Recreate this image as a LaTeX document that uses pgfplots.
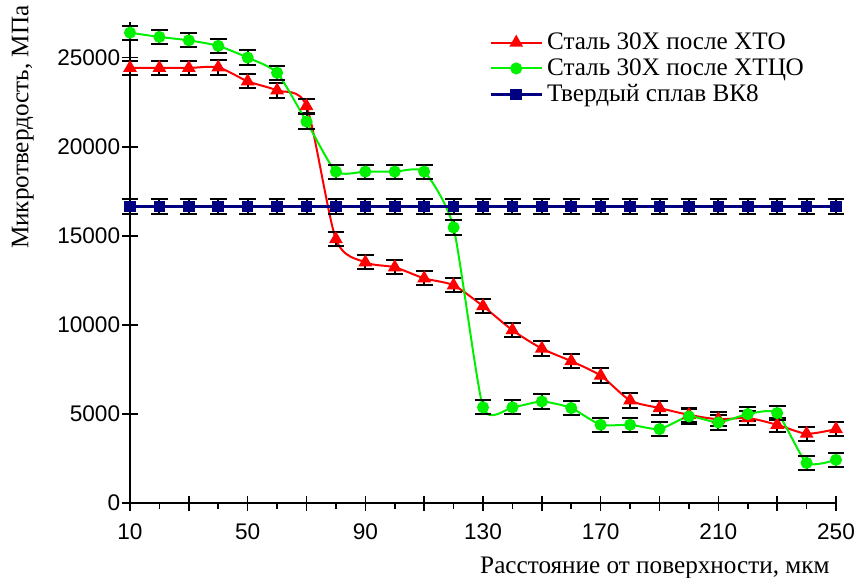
\documentclass[border=0pt]{standalone}
\usepackage{fontspec}
\setmainfont{Liberation Serif}
\setsansfont{Liberation Sans}
\usepackage{pgfplots}
\pgfplotsset{compat=1.18}

\definecolor{hto}{RGB}{255,0,0}
\definecolor{htco}{RGB}{0,240,0}
\definecolor{vk}{RGB}{0,0,128}

\begin{document}
\begin{tikzpicture}
\begin{axis}[
    name=ax,
    scale only axis,
    width=353pt, height=240.5pt,
    xmin=10, xmax=250, ymin=0, ymax=27000,
    axis lines*=left,
    axis line style={line width=1pt},
    clip=false,
    xtick={10,30,...,250},
    xticklabels={10,,50,,90,,130,,170,,210,,250},
    minor x tick num=1,
    ytick={0,5000,...,25000},
    tick align=center,
    major tick length=7.5pt,
    minor tick length=3pt,
    every tick/.style={black, line width=0.8pt},
    every minor tick/.append style={yshift=-1.5pt},
    tick label style={font=\sffamily\fontsize{11.3}{13}\selectfont},
    xticklabel style={yshift=-3pt},
    yticklabel style={inner sep=1pt},
    /pgf/number format/assume math mode=true,
    /pgf/number format/1000 sep={},
    scaled y ticks=false,
    xlabel={Расстояние от поверхности, мкм},
    ylabel={Микротвердость, МПа},
    label style={font=\fontsize{12.6}{15}\selectfont, inner sep=0pt},
    xlabel style={at={(axis description cs:0.9915,-0.135)}, anchor=east},
    ylabel style={at={(axis description cs:-0.168,1.035)}, anchor=north east},
    legend style={at={(axis description cs:0.5,0.995)}, anchor=north west,
        draw=none, fill=none, font=\fontsize{12.6}{15}\selectfont,
        row sep=-1pt},
    legend cell align=left,
    legend image code/.code={
        \draw[mark repeat=2, mark phase=2, #1]
        plot coordinates {(0cm,0cm) (0.45cm,0cm) (0.9cm,0cm)};},
    error bars/error bar style={black, line width=1pt},
    error bars/error mark options={rotate=90, mark size=4.2pt, black, line width=1pt},
]

\addplot[hto, line width=1pt, smooth, tension=0.45, mark=triangle*,
    mark size=3pt, mark options={solid},
    error bars/.cd, y dir=both, y explicit]
    coordinates {
    (10,24420) +- (0,400) (20,24420) +- (0,400) (30,24420) +- (0,400)
    (40,24450) +- (0,400) (50,23670) +- (0,400) (60,23160) +- (0,400)
    (70,22280) +- (0,400) (80,14810) +- (0,400) (90,13510) +- (0,400)
    (100,13230) +- (0,400) (110,12610) +- (0,400) (120,12220) +- (0,400)
    (130,11050) +- (0,400) (140,9700) +- (0,400) (150,8670) +- (0,400)
    (160,7960) +- (0,400) (170,7150) +- (0,400) (180,5760) +- (0,400)
    (190,5330) +- (0,400) (200,4950) +- (0,400) (210,4700) +- (0,400)
    (220,4770) +- (0,400) (230,4390) +- (0,400) (240,3890) +- (0,400)
    (250,4150) +- (0,400)
    };
\addlegendentry{Сталь 30Х после ХТО}

\addplot[htco, line width=1pt, smooth, tension=0.35, mark=*,
    mark size=2.5pt, mark options={solid},
    error bars/.cd, y dir=both, y explicit]
    coordinates {
    (10,26400) +- (0,400) (20,26160) +- (0,400) (30,25970) +- (0,400)
    (40,25660) +- (0,400) (50,25000) +- (0,400) (60,24150) +- (0,400)
    (70,21410) +- (0,400) (80,18600) +- (0,400) (90,18600) +- (0,400)
    (100,18600) +- (0,400) (110,18600) +- (0,400) (120,15470) +- (0,400)
    (130,5370) +- (0,400) (140,5370) +- (0,400) (150,5700) +- (0,400)
    (160,5330) +- (0,400) (170,4390) +- (0,400) (180,4390) +- (0,400)
    (190,4150) +- (0,400) (200,4860) +- (0,400) (210,4520) +- (0,400)
    (220,4990) +- (0,400) (230,5050) +- (0,400) (240,2250) +- (0,400)
    (250,2420) +- (0,400)
    };
\addlegendentry{Сталь 30Х после ХТЦО}

\addplot[vk, line width=1.2pt, mark=square*,
    mark size=2.3pt, mark options={solid},
    error bars/.cd, y dir=both, y explicit]
    coordinates {
    (10,16650) +- (0,400) (20,16650) +- (0,400) (30,16650) +- (0,400)
    (40,16650) +- (0,400) (50,16650) +- (0,400) (60,16650) +- (0,400)
    (70,16650) +- (0,400) (80,16650) +- (0,400) (90,16650) +- (0,400)
    (100,16650) +- (0,400) (110,16650) +- (0,400) (120,16650) +- (0,400)
    (130,16650) +- (0,400) (140,16650) +- (0,400) (150,16650) +- (0,400)
    (160,16650) +- (0,400) (170,16650) +- (0,400) (180,16650) +- (0,400)
    (190,16650) +- (0,400) (200,16650) +- (0,400) (210,16650) +- (0,400)
    (220,16650) +- (0,400) (230,16650) +- (0,400) (240,16650) +- (0,400)
    (250,16650) +- (0,400)
    };
\addlegendentry{Твердый сплав ВК8}

\end{axis}
\pgfresetboundingbox
\path[use as bounding box] ([shift={(-65pt,-37pt)}]ax.south west)
    rectangle ([shift={(12pt,11pt)}]ax.north east);
\end{tikzpicture}
\end{document}
